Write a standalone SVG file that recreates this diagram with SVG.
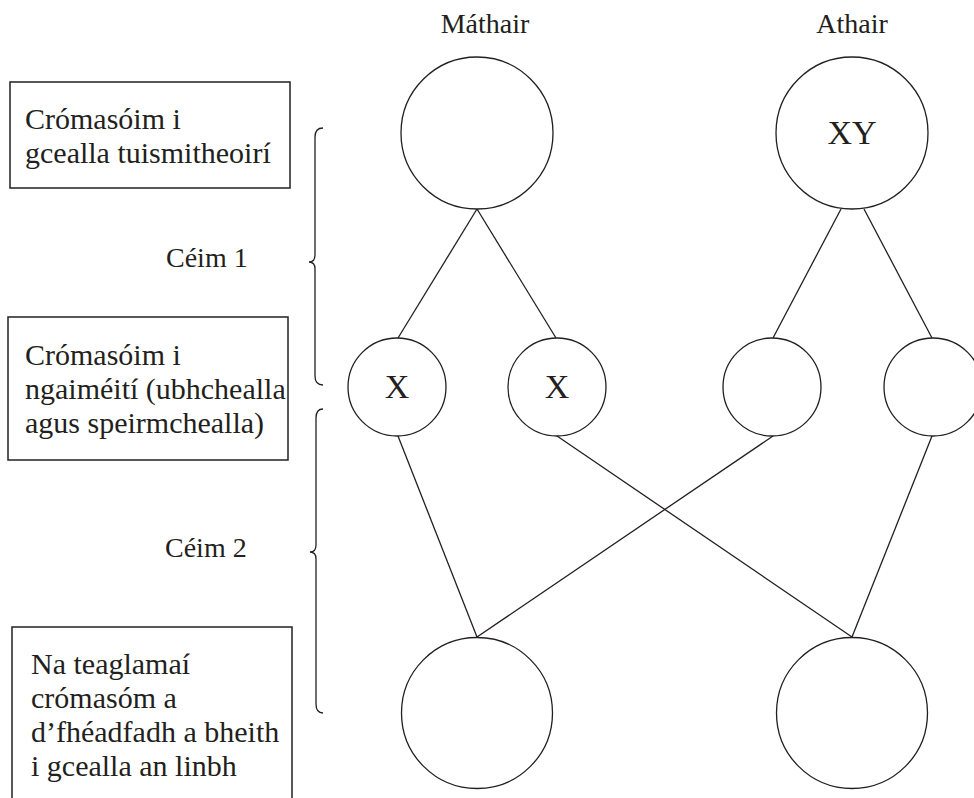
<svg xmlns="http://www.w3.org/2000/svg" width="974" height="798" viewBox="0 0 974 798">
<style>
.t{fill:#231f20}
.box{fill:none;stroke:#231f20;stroke-width:1.5}
.cell{fill:#fff;stroke:#231f20;stroke-width:1.3}
.ln{stroke:#231f20;stroke-width:1.3;fill:none}
.bt{font-size:30px}
.lbl{font-size:28px}
.chr{font-size:34px}
</style>
<rect width="974" height="798" fill="#fff"/>
<g id="connectors">
<line class="ln" x1="477" y1="209" x2="398" y2="338"/>
<line class="ln" x1="477" y1="209" x2="556" y2="338"/>
<line class="ln" x1="841" y1="209" x2="773" y2="338"/>
<line class="ln" x1="864" y1="209" x2="932" y2="338"/>
<line class="ln" x1="398" y1="436" x2="477" y2="637"/>
<line class="ln" x1="557" y1="436" x2="852" y2="637"/>
<line class="ln" x1="773" y1="436" x2="477" y2="637"/>
<line class="ln" x1="932" y1="436" x2="852" y2="637"/>
</g>
<g id="braces">
<path class="ln" d="M323 128 Q315 128 315 137 L315 255 Q315 262 309 262 Q315 262 315 269 L315 376 Q315 385 323 385"/>
<path class="ln" d="M323 409 Q316 409 316 418 L316 545 Q316 552 310 552 Q316 552 316 559 L316 704 Q316 713 323 713"/>
</g>
<g font-family="'Liberation Serif', 'Times New Roman', 'DejaVu Serif', serif" class="t">
<g id="box-parents">
<rect class="box" x="10" y="82" width="280" height="106"/>
<text class="bt" x="25" y="129">Crómasóim i</text>
<text class="bt" x="25" y="163">gcealla tuismitheoirí</text>
</g>
<g id="box-gametes">
<rect class="box" x="8" y="317" width="280" height="143"/>
<text class="bt" x="25" y="365">Crómasóim i</text>
<text class="bt" x="25" y="399">ngaiméití (ubhchealla</text>
<text class="bt" x="25" y="433">agus speirmchealla)</text>
</g>
<g id="box-child">
<path class="box" d="M12 800 L12 627 L292 627 L292 800"/>
<text class="bt" x="31" y="674">Na teaglamaí</text>
<text class="bt" x="31" y="708">crómasóm a</text>
<text class="bt" x="31" y="742">d’fhéadfadh a bheith</text>
<text class="bt" x="31" y="776">i gcealla an linbh</text>
</g>
<g id="step1"><text class="lbl" x="166" y="267">Céim 1</text></g>
<g id="step2"><text class="lbl" x="165" y="557">Céim 2</text></g>
<g id="label-mother"><text class="lbl" x="485" y="33" text-anchor="middle">Máthair</text></g>
<g id="label-father"><text class="lbl" x="852" y="33" text-anchor="middle">Athair</text></g>
<g id="mother"><circle class="cell" cx="477" cy="133" r="76"/></g>
<g id="father"><circle class="cell" cx="852" cy="133" r="76"/><text class="chr" x="852" y="144" text-anchor="middle">XY</text></g>
<g id="egg1"><circle class="cell" cx="397" cy="387" r="49"/><text class="chr" x="397" y="398" text-anchor="middle">X</text></g>
<g id="egg2"><circle class="cell" cx="557" cy="387" r="49"/><text class="chr" x="557" y="398" text-anchor="middle">X</text></g>
<g id="sperm1"><circle class="cell" cx="772" cy="387" r="49"/></g>
<g id="sperm2"><circle class="cell" cx="933" cy="387" r="49"/></g>
<g id="child1"><circle class="cell" cx="477" cy="713" r="75.5"/></g>
<g id="child2"><circle class="cell" cx="852" cy="713" r="75.5"/></g>
</g>
</svg>
